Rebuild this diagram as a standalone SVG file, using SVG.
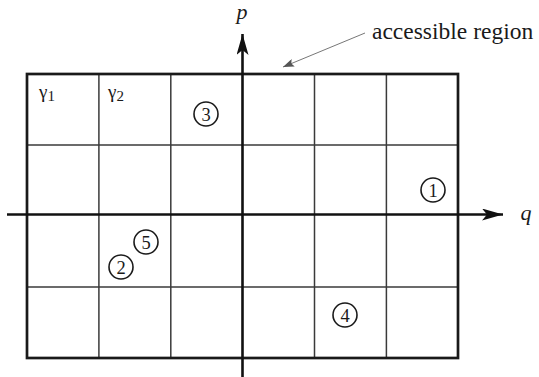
<svg xmlns="http://www.w3.org/2000/svg" width="539" height="377" viewBox="0 0 539 377">
<style>
.grid{stroke:#3a3a3a;stroke-width:1.5;fill:none}
.frame{stroke:#1a1a1a;stroke-width:2.7;fill:none}
.axis{stroke:#111;stroke-width:2.6;fill:none}
text{font-family:'Liberation Serif','Times New Roman','DejaVu Serif',serif;fill:#1a1a1a}
.num{font-size:18.5px;text-anchor:middle}
.ring{fill:none;stroke:#1a1a1a;stroke-width:1.6}
</style>
<defs>
<marker id="big" markerUnits="userSpaceOnUse" markerWidth="22" markerHeight="12" refX="21" refY="6" orient="auto"><path d="M0,0 L21,6 L0,12 L5,6 Z" fill="#111"/></marker>
<marker id="small" markerUnits="userSpaceOnUse" markerWidth="11" markerHeight="8" refX="11" refY="4" orient="auto"><path d="M0,0 L11,4 L0,8 L2,4 Z" fill="#555"/></marker>
</defs>
<g id="grid">
<line class="grid" x1="98.9" y1="74" x2="98.9" y2="358"/>
<line class="grid" x1="170.8" y1="74" x2="170.8" y2="358"/>
<line class="grid" x1="314.5" y1="74" x2="314.5" y2="358"/>
<line class="grid" x1="386.4" y1="74" x2="386.4" y2="358"/>
<line class="grid" x1="27" y1="145" x2="458" y2="145"/>
<line class="grid" x1="27" y1="287" x2="458" y2="287"/>
<rect class="frame" x="27" y="74" width="431" height="284"/>
</g>
<g id="connectors">
<line class="axis" x1="242.5" y1="377" x2="242.5" y2="34" marker-end="url(#big)"/>
<line class="axis" x1="7" y1="214.5" x2="503" y2="214.5" marker-end="url(#big)"/>
<line x1="365" y1="33" x2="283" y2="67" stroke="#777" stroke-width="1" marker-end="url(#small)"/>
</g>
<g id="labels">
<text x="242" y="19" font-size="22" font-style="italic" text-anchor="middle">p</text>
<text x="526" y="220" font-size="22" font-style="italic" text-anchor="middle">q</text>
<text x="372" y="39" font-size="23.5">accessible region</text>
<text x="39" y="98" font-size="19">γ<tspan font-size="15" dy="3">1</tspan></text>
<text x="108" y="98" font-size="19">γ<tspan font-size="15" dy="3">2</tspan></text>
</g>
<g id="p1"><circle class="ring" cx="433" cy="190" r="12"/><text class="num" x="433" y="196.5">1</text></g>
<g id="p2"><circle class="ring" cx="121" cy="267" r="12"/><text class="num" x="121" y="273.5">2</text></g>
<g id="p3"><circle class="ring" cx="206" cy="114" r="12"/><text class="num" x="206" y="120.5">3</text></g>
<g id="p4"><circle class="ring" cx="345" cy="315" r="12"/><text class="num" x="345" y="321.5">4</text></g>
<g id="p5"><circle class="ring" cx="146" cy="242" r="12"/><text class="num" x="146" y="248.5">5</text></g>
</svg>
